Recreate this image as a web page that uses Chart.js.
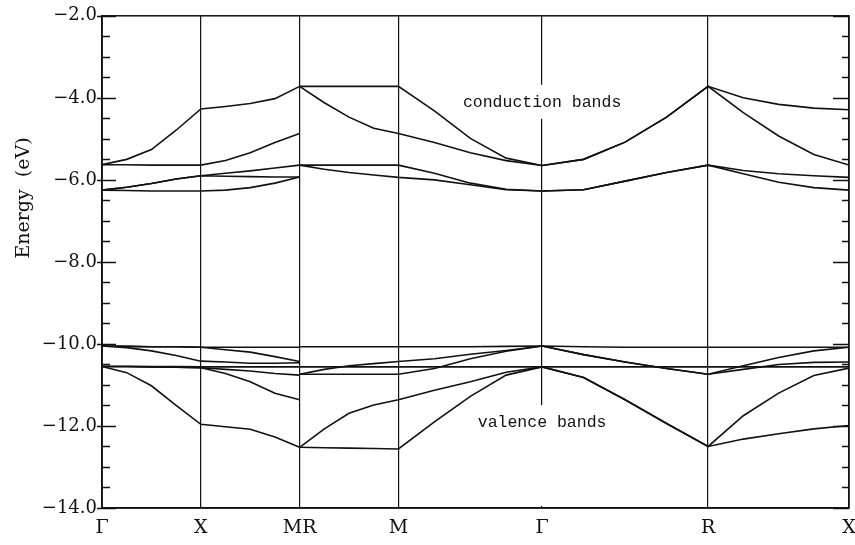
<!DOCTYPE html>
<html>
<head>
<meta charset="utf-8">
<script src="https://cdn.jsdelivr.net/npm/chart.js@4.4.1/dist/chart.umd.min.js"></script>
<style>
  html, body { margin: 0; padding: 0; background: #fff; }
  #wrap { width: 855px; height: 545px; }
</style>
</head>
<body>
<div id="wrap"><canvas id="bands"></canvas></div>
<script>
// high symmetry points along the k path
const kTicks = [0, 0.5, 1.0, 1.5, 2.227, 3.067, 3.78];
const kLabels = ['Γ', 'X', 'MR', 'M', 'Γ', 'R', 'X'];

// sample points: Γ-X-M, then R-M-Γ-R-X
const kPath1 = [0, 0.125, 0.25, 0.375, 0.5, 0.625, 0.75, 0.875, 1.0];
const kPath2 = [1.0, 1.125, 1.25, 1.375, 1.5, 1.682, 1.864, 2.045, 2.227,
                2.437, 2.647, 2.857, 3.067, 3.245, 3.424, 3.602, 3.78];

// conduction bands (eV)
const cond1A = [-5.63, -5.50, -5.26, -4.79, -4.27, -4.21, -4.14, -4.02, -3.72];
const cond1B = [-5.63, -5.63, -5.64, -5.64, -5.64, -5.53, -5.34, -5.09, -4.87];
const cond1C = [-6.25, -6.18, -6.09, -5.98, -5.90, -5.84, -5.78, -5.71, -5.64];
const cond1D = [-6.25, -6.26, -6.27, -6.27, -6.27, -6.25, -6.19, -6.08, -5.93];
const cond1E = [-6.25, -6.18, -6.09, -5.98, -5.90, -5.91, -5.92, -5.93, -5.93];

const cond2A = [-3.72, -3.72, -3.72, -3.72, -3.72, -4.32, -4.99, -5.47, -5.65,
                -5.50, -5.08, -4.47, -3.72, -4.00, -4.16, -4.25, -4.29];
const cond2B = [-3.72, -4.12, -4.47, -4.74, -4.87, -5.09, -5.34, -5.53, -5.65,
                -5.50, -5.08, -4.47, -3.72, -4.36, -4.93, -5.38, -5.64];
const cond2C = [-5.64, -5.64, -5.64, -5.64, -5.64, -5.84, -6.08, -6.23, -6.27,
                -6.24, -6.03, -5.82, -5.64, -5.77, -5.85, -5.90, -5.94];
const cond2D = [-5.64, -5.74, -5.82, -5.88, -5.94, -6.00, -6.12, -6.24, -6.27,
                -6.24, -6.03, -5.82, -5.64, -5.85, -6.06, -6.19, -6.25];

// valence bands (eV)
const val1A = [-10.05, -10.06, -10.07, -10.07, -10.08, -10.08, -10.08, -10.08, -10.08];
const val1B = [-10.05, -10.06, -10.07, -10.07, -10.08, -10.14, -10.20, -10.31, -10.43];
const val1C = [-10.05, -10.09, -10.17, -10.28, -10.42, -10.44, -10.47, -10.47, -10.46];
const val1D = [-10.55, -10.55, -10.55, -10.55, -10.56, -10.56, -10.56, -10.56, -10.56];
const val1E = [-10.55, -10.55, -10.56, -10.57, -10.58, -10.62, -10.66, -10.72, -10.76];
const val1F = [-10.55, -10.55, -10.56, -10.57, -10.58, -10.72, -10.92, -11.20, -11.36];
const val1G = [-10.55, -10.70, -11.02, -11.50, -11.96, -12.02, -12.08, -12.27, -12.52];

const val2A = [-10.07, -10.07, -10.07, -10.07, -10.07, -10.07, -10.07, -10.06, -10.05,
               -10.07, -10.08, -10.08, -10.08, -10.08, -10.08, -10.08, -10.08];
const val2B = [-10.74, -10.62, -10.53, -10.48, -10.43, -10.36, -10.25, -10.16, -10.05,
               -10.26, -10.44, -10.60, -10.74, -10.53, -10.33, -10.17, -10.08];
const val2C = [-10.74, -10.74, -10.74, -10.74, -10.74, -10.60, -10.36, -10.18, -10.05,
               -10.26, -10.44, -10.60, -10.74, -10.62, -10.50, -10.45, -10.44];
const val2D = [-10.56, -10.56, -10.56, -10.56, -10.56, -10.56, -10.56, -10.56, -10.56,
               -10.56, -10.56, -10.56, -10.56, -10.56, -10.56, -10.56, -10.56];
const val2E = [-12.52, -12.07, -11.69, -11.49, -11.36, -11.13, -10.92, -10.69, -10.56,
               -10.82, -11.36, -11.94, -12.50, -11.75, -11.20, -10.77, -10.59];
const val2F = [-12.52, -12.53, -12.54, -12.55, -12.56, -11.90, -11.28, -10.76, -10.56,
               -10.82, -11.36, -11.94, -12.50, -12.32, -12.19, -12.07, -11.99];

const path1Bands = [cond1A, cond1B, cond1C, cond1D, cond1E, val1A, val1B, val1C, val1D, val1E, val1F, val1G];
const path2Bands = [cond2A, cond2B, cond2C, cond2D, val2A, val2B, val2C, val2D, val2E, val2F];

const notes = [
    { text: 'conduction bands', k: 2.227, e: -4.12, toBottom: false },
    { text: 'valence bands', k: 2.227, e: -11.93, toBottom: true }
];

const ink = '#111';

function bandSet(ks, es) {
    return {
        data: ks.map((k, i) => ({ x: k, y: es[i] })),
        borderColor: ink,
        borderWidth: 1.6,
        pointRadius: 0,
        fill: false,
        tension: 0
    };
}

const datasets = path1Bands.map(b => bandSet(kPath1, b))
    .concat(path2Bands.map(b => bandSet(kPath2, b)));

// frame, inward tick marks, notes and the y title
const decorations = {
    id: 'decorations',
    afterDatasetsDraw(chart) {
        const ctx = chart.ctx;
        const area = chart.chartArea;
        const xs = chart.scales.x;
        const ys = chart.scales.y;
        ctx.save();

        // notes with a white box behind them
        ctx.font = '16.5px "Liberation Mono", monospace';
        ctx.textAlign = 'center';
        ctx.textBaseline = 'middle';
        notes.forEach(n => {
            const x = xs.getPixelForValue(n.k);
            const y = ys.getPixelForValue(n.e);
            const w = ctx.measureText(n.text).width;
            const bottom = n.toBottom ? area.bottom - 2 : y + 16;
            ctx.fillStyle = '#fff';
            ctx.fillRect(x - w / 2 - 4, y - 18, w + 8, bottom - (y - 18));
            ctx.fillStyle = ink;
            ctx.fillText(n.text, x, y);
        });

        // frame
        ctx.strokeStyle = ink;
        ctx.lineWidth = 1.5;
        ctx.strokeRect(area.left, area.top, area.right - area.left, area.bottom - area.top);

        // tick marks on both sides
        ctx.lineWidth = 1.3;
        ctx.beginPath();
        ys.ticks.forEach(t => {
            const y = Math.round(ys.getPixelForValue(t.value)) + 0.5;
            const major = Math.abs(t.value % 2) < 1e-6;
            ctx.moveTo(area.left - (major ? 5 : 0), y);
            ctx.lineTo(area.left + (major ? 14 : 8), y);
            ctx.moveTo(area.right - (major ? 16 : 7), y);
            ctx.lineTo(area.right, y);
        });
        ctx.stroke();

        // y title
        ctx.fillStyle = ink;
        ctx.font = '19px "DejaVu Serif", serif';
        ctx.translate(24, 198);
        ctx.rotate(-Math.PI / 2);
        ctx.textAlign = 'center';
        ctx.textBaseline = 'middle';
        ctx.fillText('Energy  (eV)', 0, 0);
        ctx.restore();
    }
};

new Chart(document.getElementById('bands'), {
    type: 'line',
    data: { datasets: datasets },
    options: {
        responsive: true,
        maintainAspectRatio: false,
        animation: false,
        devicePixelRatio: 1,
        layout: { padding: { top: 14, right: 6, bottom: 0, left: 0 } },
        plugins: {
            legend: { display: false },
            tooltip: { enabled: false }
        },
        scales: {
            x: {
                type: 'linear',
                min: 0,
                max: 3.78,
                afterBuildTicks: scale => {
                    scale.ticks = kTicks.map(v => ({ value: v }));
                },
                afterFit: scale => {
                    scale.height = 37;
                    scale.paddingLeft = 0;
                    scale.paddingRight = 0;
                },
                ticks: {
                    autoSkip: false,
                    maxRotation: 0,
                    padding: 9,
                    color: ink,
                    font: { family: '"DejaVu Serif", serif', size: 19 },
                    callback: (v, i) => kLabels[i]
                },
                grid: { color: ink, lineWidth: 1.2, drawTicks: false },
                border: { color: ink, width: 1.5 }
            },
            y: {
                type: 'linear',
                min: -14,
                max: -2,
                afterFit: scale => { scale.width = 102; },
                ticks: {
                    stepSize: 0.5,
                    autoSkip: false,
                    padding: 5,
                    color: ink,
                    font: { family: '"DejaVu Serif", serif', size: 18 },
                    callback: v => (Math.abs(v % 2) < 1e-6 ? '\u2212' + Math.abs(v).toFixed(1) : '')
                },
                grid: { display: false, drawTicks: false },
                border: { color: ink, width: 1.5 }
            }
        }
    },
    plugins: [decorations]
});
</script>
</body>
</html>
